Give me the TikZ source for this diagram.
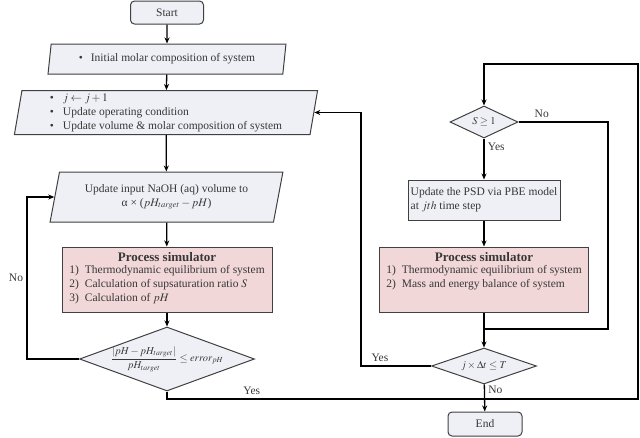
\documentclass[tikz,border=0pt]{standalone}
\usepackage{amsmath}
\usepackage{mathptmx}
\usepackage{fontspec}
\setmainfont{Liberation Serif}
\usetikzlibrary{shapes.geometric,arrows.meta,positioning}

\definecolor{boxgray}{RGB}{238,240,245}
\definecolor{simpink}{RGB}{242,215,217}
\definecolor{edgegray}{RGB}{64,64,64}
\definecolor{txtgray}{RGB}{55,55,55}

\begin{document}
\begin{tikzpicture}[x=1pt,y=-1pt]
 \tikzset{
  box/.style={draw=edgegray, line width=1pt, fill=boxgray, text=txtgray,
   font=\fontsize{11.5}{14}\selectfont, inner sep=2pt},
  term/.style={box, rounded corners=4pt, minimum width=73pt, minimum height=23pt},
  io/.style={box, trapezium, trapezium stretches=true, inner ysep=1pt},
  sim/.style={box, fill=simpink, minimum width=210pt, minimum height=65pt, align=center},
  decision/.style={box, diamond, inner sep=0pt, font=\fontsize{10.5}{12}\selectfont},
  flow/.style={line width=1.3pt, -{Stealth[length=6pt,width=5pt]}},
  link/.style={line width=1.3pt},
  lbl/.style={font=\fontsize{11.5}{14}\selectfont, text=txtgray}
 }
  \useasboundingbox (0,0) rectangle (640,437);

  % left column
  \node[term] (start) at (167,12.5) {Start};
  \node[io, trapezium left angle=79, trapezium right angle=101,
   minimum width=238pt, minimum height=30pt] (init) at (167,59)
   {\textbullet\hspace{8pt}Initial molar composition of system};
  \node[io, trapezium left angle=82, trapezium right angle=98,
   minimum width=304pt, minimum height=41pt] (upd) at (166,112.5)
   {\begin{tabular}{@{}l@{\hspace{9pt}}l@{}}
    \textbullet & $j \leftarrow j+1$\\
    \textbullet & Update operating condition\\
    \textbullet & Update volume \& molar composition of system
   \end{tabular}};
  \node[io, trapezium left angle=75, trapezium right angle=105,
   minimum width=233pt, minimum height=50pt, align=center] (naoh) at (166.5,197)
   {Update input NaOH (aq) volume to\\ α × ($pH_{target}-pH$)};
  \node[sim] (ps1) at (167,279.5)
   {{\fontsize{13}{15}\selectfont\bfseries Process simulator}\\[1pt]
    \begin{tabular}{@{}l@{\hspace{6pt}}l@{}}
    1) & Thermodynamic equilibrium of system\\
    2) & Calculation of supsaturation ratio $S$\\
    3) & Calculation of $pH$
   \end{tabular}};
  \node[decision, inner sep=-6pt, aspect=2.73, minimum width=175pt, minimum height=64pt]
   (chk) at (167,359)
   {$\displaystyle\frac{\lvert pH-pH_{target}\rvert}{pH_{target}}\leq error_{pH}$};

  % right column
  \node[decision, aspect=2.1, minimum width=68pt, minimum height=32pt] (sge) at (484,122) {$S\geq 1$};
  \node[box, minimum width=152pt, minimum height=40pt, align=left] (psd) at (484,200)
   {Update the PSD via PBE model\\ at $jth$ time step};
  \node[sim, minimum width=209pt] (ps2) at (484,279.5)
   {{\fontsize{13}{15}\selectfont\bfseries Process simulator}\\[1pt]
    \begin{tabular}{@{}l@{\hspace{6pt}}l@{}}
    1) & Thermodynamic equilibrium of system\\
    2) & Mass and energy balance of system\\
    &
   \end{tabular}};
  \node[decision, aspect=2.9, minimum width=105pt, minimum height=36pt] (jdec) at (484,366)
   {$j\times\Delta t\leq T$};
  \node[term, minimum width=74pt, minimum height=24pt] (stop) at (485,424) {End};

  % corners
  \coordinate (lc) at (27,359);
  \coordinate (rb) at (638,399);
  \coordinate (rt) at (638,64);
  \coordinate (rn) at (608,329);
  \coordinate (yc) at (361,366);

  \draw[flow] (start) -- (init);
  \draw[flow] (init) -- (upd);
  \draw[flow] (upd) -- (naoh);
  \draw[flow] (naoh) -- (ps1);
  \draw[flow] (ps1) -- (chk);
  \draw[flow] (chk.west) -- (lc) |- node[lbl, pos=0.25, left] {No} (naoh.west);
  \draw[flow] (chk.south) |- node[lbl, pos=0.59, above] {Yes} (rb) -- (rt) -| (sge.north);
  \draw[flow] (sge) -- node[lbl, pos=0.2, right] {Yes} (psd);
  \draw[flow] (psd) -- (ps2);
  \draw[link] (sge.east) -| node[lbl, pos=0.13, above] {No} (rn) -- (rn -| sge.south);
  \draw[flow] (ps2) -- (jdec);
  \draw[flow] (jdec.west) -- node[lbl, pos=0.73, above] {Yes} (yc) |- (upd.east);
  \draw[flow] (jdec) -- node[lbl, pos=0.2, right] {No} (stop);
\end{tikzpicture}
\end{document}
